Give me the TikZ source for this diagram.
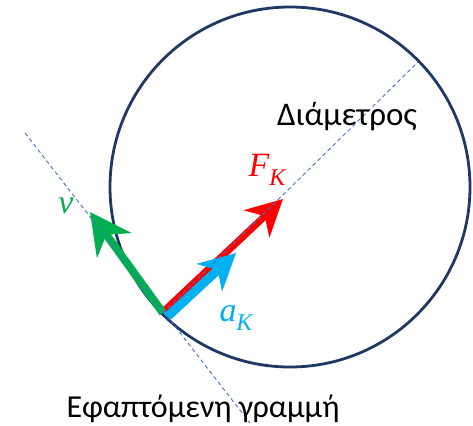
\documentclass[tikz,border=0pt]{standalone}
\usepackage{fontspec}
\setmainfont{Carlito}
\newfontfamily\mlfont{Liberation Serif}
\usetikzlibrary{arrows.meta}
\definecolor{circ}{HTML}{203864}
\definecolor{dashblue}{HTML}{4472C4}
\definecolor{vgreen}{HTML}{00B050}
\definecolor{ablue}{HTML}{00B0F0}
\definecolor{fred}{HTML}{FF0000}
\newcommand{\lsub}[1]{\raisebox{-0.25em}{\fontsize{24}{24}\selectfont #1}}
\begin{document}
\begin{tikzpicture}[x=1pt,y=-1pt,
  guide/.style={draw=dashblue, line width=0.9pt, dash pattern=on 4pt off 3pt},
  lbl/.style={inner sep=0pt, font=\fontsize{32}{36}\selectfont},
  mlbl/.style={inner sep=0pt, font=\mlfont\itshape\fontsize{34}{36}\selectfont}]
\useasboundingbox (0,0) rectangle (473,425);
\node[circle, draw=circ, line width=2.8pt, minimum size=360pt, inner sep=0pt] (C) at (290,187) {};
\coordinate (T) at (163,313);
\coordinate (D) at (418,62);
\coordinate (L1) at (25,133);
\coordinate (L2) at (250,423);
\coordinate (Vt) at (90,212);
\coordinate (Fs) at (164,311);
\coordinate (Ft) at (283,199);
\coordinate (As) at (167,317);
\coordinate (At) at (236,253);
\draw[line width=7pt, fred, -{Stealth[length=36pt,width=37pt,inset=11pt]}] (Fs) -- (Ft);
\draw[line width=9pt, ablue, -{Stealth[length=36pt,width=37pt,inset=11pt]}] (As) -- (At);
\draw[line width=8pt, vgreen, -{Stealth[length=41pt,width=42pt,inset=13pt]}] (T) -- (Vt);
\draw[guide] (T) -- (D);
\draw[guide] (L1) -- (L2);
\node[mlbl, text=vgreen] (vlab) at (66,206) {v};
\node[mlbl, text=fred] (Flab) at (267,170) {F\lsub{K}};
\node[mlbl, text=ablue] (alab) at (236,318) {a\lsub{K}};
\node[lbl, font=\fontsize{33}{36}\selectfont] (diam) at (347,117) {Διάμετρος};
\node[lbl] (tang) at (203,409) {Εφαπτόμενη γραμμή};
\end{tikzpicture}
\end{document}
